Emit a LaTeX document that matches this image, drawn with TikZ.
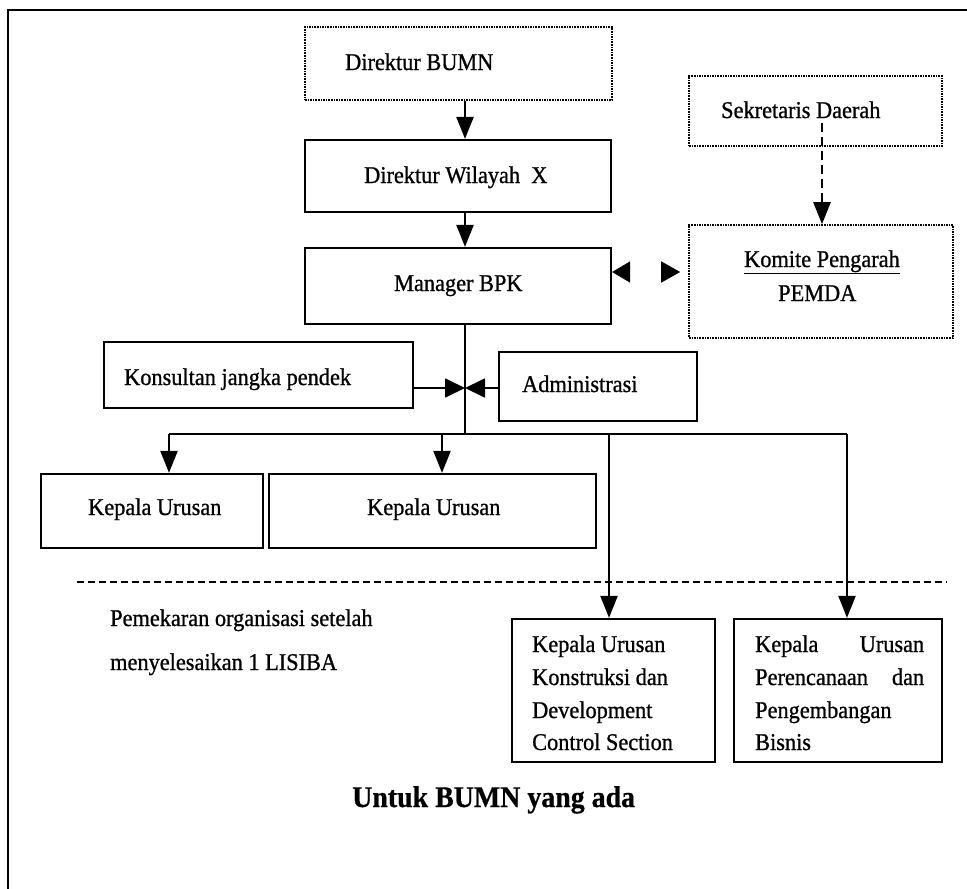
\documentclass[tikz,border=0pt]{standalone}
\usepackage{fontspec}
\setmainfont{Liberation Serif}[FakeStretch=0.93]
\usetikzlibrary{arrows.meta}

\begin{document}
\begin{tikzpicture}[x=1pt,y=-1pt,
  solidbox/.style={draw, line width=2.2pt, inner sep=0pt},
  dotbox/.style={draw, line width=1.6pt, densely dotted, inner sep=0pt},
  lbl/.style={inner sep=0pt, font=\fontsize{24}{33}\selectfont\addfontfeature{FakeBold=0.9}},
  title/.style={inner sep=0pt, font=\fontsize{30}{36}\selectfont\bfseries\addfontfeature{FakeBold=0.6}},
  link/.style={line width=2.2pt},
  arr/.style={line width=2.2pt, -{Triangle[length=22pt,width=17pt]}},
  harr/.style={line width=1.8pt, -{Triangle[length=20pt,width=19pt]}}
]
\useasboundingbox (0,0) rectangle (967,889);

% outer frame (left and top edges)
\draw[line width=1.8pt] (8,889) -- (8,10) -- (967,10);

% boxes
\node[dotbox,   minimum width=307pt, minimum height=73pt]  (bumn) at (458.5,63.5) {};
\node[solidbox, minimum width=306pt, minimum height=72pt]  (wil)  at (458,176) {};
\node[solidbox, minimum width=306pt, minimum height=76pt]  (mgr)  at (458,286) {};
\node[dotbox,   line width=1.2pt, minimum width=253pt, minimum height=70pt] (sek) at (815.5,111) {};
\node[dotbox,   minimum width=264pt, minimum height=113pt] (kom)  at (821,281.5) {};
\node[solidbox, minimum width=309pt, minimum height=66pt]  (kon)  at (258.5,375) {};
\node[solidbox, minimum width=198pt, minimum height=69pt]  (adm)  at (598,386.5) {};
\node[solidbox, minimum width=222pt, minimum height=74pt]  (ku1)  at (152,511) {};
\node[solidbox, minimum width=327pt, minimum height=74pt]  (ku2)  at (432.5,511) {};
\node[solidbox, minimum width=203pt, minimum height=143pt] (kk)   at (613.5,690.5) {};
\node[solidbox, minimum width=208pt, minimum height=143pt] (kp)   at (838,690.5) {};

% box texts
\node[lbl, anchor=base west] (tbumn) at (345,70)  {Direktur BUMN};
\node[lbl, anchor=base west] (twil)  at (364,183) {Direktur Wilayah\ \ X};
\node[lbl, anchor=base west] (tmgr)  at (394,291) {Manager BPK};
\node[lbl, anchor=base west] (tsek)  at (721,118) {Sekretaris Daerah};
\node[lbl, anchor=base west] (tkom1) at (744,267) {\underline{Komite Pengarah}};
\node[lbl, anchor=base west] (tkom2) at (778,301) {PEMDA};
\node[lbl, anchor=base west] (tkon)  at (124,385) {Konsultan jangka pendek};
\node[lbl, anchor=base west] (tadm)  at (522,392) {Administrasi};
\node[lbl, anchor=base west] (tku1)  at (88,515)  {Kepala Urusan};
\node[lbl, anchor=base west] (tku2)  at (367,515) {Kepala Urusan};

\node[lbl, anchor=base west] (tkk1) at (532,652) {Kepala Urusan};
\node[lbl, anchor=base west] (tkk2) at (532,685) {Konstruksi dan};
\node[lbl, anchor=base west] (tkk3) at (532,718) {Development};
\node[lbl, anchor=base west] (tkk4) at (532,750) {Control Section};

\node[lbl, anchor=base west] (tkp1) at (755,652) {\makebox[169pt][s]{Kepala Urusan}};
\node[lbl, anchor=base west] (tkp2) at (755,685) {\makebox[169pt][s]{Perencanaan dan}};
\node[lbl, anchor=base west] (tkp3) at (755,718) {Pengembangan};
\node[lbl, anchor=base west] (tkp4) at (755,750) {Bisnis};

% free texts
\node[lbl, anchor=base west] (tpem1) at (110,626) {Pemekaran organisasi setelah};
\node[lbl, anchor=base west] (tpem2) at (110,670) {menyelesaikan 1 LISIBA};
\node[title, anchor=base west] (ttitle) at (352,807) {Untuk BUMN yang ada};

% connector points
\coordinate (col)  at (465,0);
\coordinate (hub)  at (465,388);
\coordinate (bus)  at (465,434);
\coordinate (b1)   at (169,434);
\coordinate (b2)   at (442,434);
\coordinate (b3)   at (609,434);
\coordinate (b4)   at (847,434);
\coordinate (sekd) at (822,123);

% main chain
\draw[arr] (bumn.south -| col) -- (wil.north -| col);
\draw[arr] (wil.south -| col) -- (mgr.north -| col);
\draw[link] (mgr.south -| col) -- (bus);
\draw[link] (b1) -- (b4);

% staff units into the trunk
\draw[harr] (kon.east |- hub) -- (hub);
\draw[harr] (adm.west |- hub) -- (hub);

% branches down to the sections
\draw[arr] (b1) -- (b1 |- ku1.north);
\draw[arr] (b2) -- (b2 |- ku2.north);
\draw[arr] (b3) -- (b3 |- kk.north);
\draw[arr] (b4) -- (b4 |- kp.north);

% Sekretaris Daerah to Komite Pengarah
\draw[line width=2.6pt, dash pattern=on 9pt off 5pt, -{Triangle[length=22pt,width=17pt]}] (sekd) -- (sekd |- kom.north);

% two-way link between Manager BPK and the committee
\draw[line width=1.5pt, dash pattern=on 0pt off 300pt,
      {Triangle[length=18pt,width=21pt]}-{Triangle[length=19pt,width=21pt]}, shorten >=8pt]
  ([yshift=14pt]mgr.east) -- ([yshift=14pt]mgr.east -| kom.west);

% separator
\draw[line width=1.8pt, dash pattern=on 7pt off 4pt] (77,582) -- (947,582);
\end{tikzpicture}
\end{document}
